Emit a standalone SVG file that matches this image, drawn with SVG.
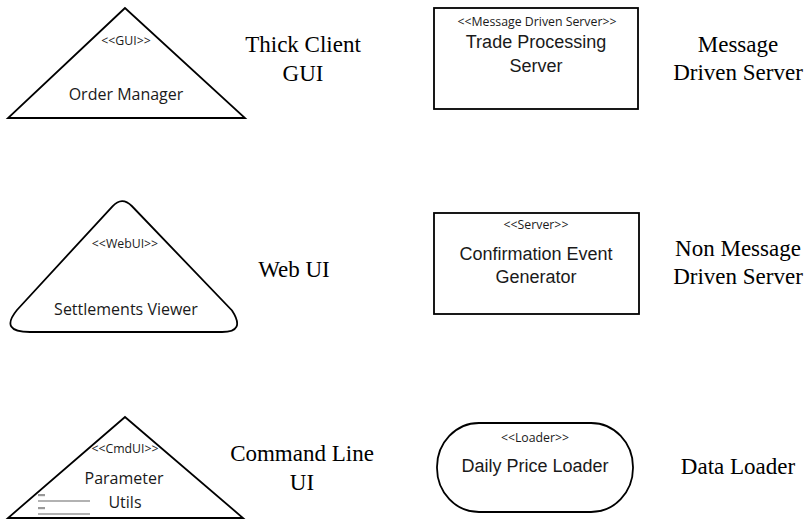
<svg xmlns="http://www.w3.org/2000/svg" width="807" height="519" viewBox="0 0 807 519">
<style>
.shape{fill:#fff;stroke:#000;stroke-width:1.8;stroke-linejoin:miter}
.st{font-family:"Open Sans",sans-serif;font-size:12.3px;fill:#1a1a1a;text-anchor:middle}
.nm{font-family:"Open Sans",sans-serif;font-size:16px;fill:#1a1a1a;text-anchor:middle}
.bx{font-family:"Liberation Sans",Arial,sans-serif;font-size:18px;fill:#1a1a1a;text-anchor:middle}
.lb{font-family:"Liberation Serif","Times New Roman",serif;font-size:23px;fill:#000;text-anchor:middle}
.menu{stroke:#999;stroke-width:1.6}
.dash{fill:#999}
</style>
<rect width="807" height="519" fill="#fff"/>
<g id="connectors"></g>
<g id="node-order-manager">
<polygon class="shape" points="125,8 8,118 245,118"/>
<text class="st" x="126" y="45">&lt;&lt;GUI&gt;&gt;</text>
<text class="nm" x="126" y="100">Order Manager</text>
</g>
<g id="label-thick-client">
<text class="lb" x="303" y="52">Thick Client</text>
<text class="lb" x="303" y="81">GUI</text>
</g>
<g id="node-trade-processing">
<rect class="shape" x="434" y="8" width="204" height="101"/>
<text class="st" x="537" y="26">&lt;&lt;Message Driven Server&gt;&gt;</text>
<text class="bx" x="536" y="48">Trade Processing</text>
<text class="bx" x="536" y="72">Server</text>
</g>
<g id="label-message-driven">
<text class="lb" x="738" y="52">Message</text>
<text class="lb" x="738" y="80">Driven Server</text>
</g>
<g id="node-settlements-viewer">
<path class="shape" d="M112.5,206.3 Q122,196 131.8,206 L232,310.5 Q246,332 222,332 L30,332 Q-1,332 17,310 Z"/>
<text class="st" x="125" y="248">&lt;&lt;WebUI&gt;&gt;</text>
<text class="nm" x="126" y="315">Settlements Viewer</text>
</g>
<g id="label-web-ui">
<text class="lb" x="294" y="277">Web UI</text>
</g>
<g id="node-confirmation">
<rect class="shape" x="434" y="213" width="205" height="101"/>
<text class="st" x="536" y="229">&lt;&lt;Server&gt;&gt;</text>
<text class="bx" x="536" y="260">Confirmation Event</text>
<text class="bx" x="536" y="283">Generator</text>
</g>
<g id="label-non-message">
<text class="lb" x="738" y="256">Non Message</text>
<text class="lb" x="738" y="284">Driven Server</text>
</g>
<g id="node-parameter-utils">
<polygon class="shape" points="125,417 8,518 243,518"/>
<text class="st" x="125" y="453">&lt;&lt;CmdUI&gt;&gt;</text>
<text class="nm" x="124" y="484">Parameter</text>
<text class="nm" x="125" y="508">Utils</text>
<rect class="dash" x="38" y="494" width="7" height="2.2"/>
<line class="menu" x1="38" y1="501" x2="90" y2="501"/>
<rect class="dash" x="38" y="507" width="7" height="2.2"/>
<line class="menu" x1="38" y1="514" x2="90" y2="514"/>
</g>
<g id="label-command-line">
<text class="lb" x="302" y="461">Command Line</text>
<text class="lb" x="302" y="490">UI</text>
</g>
<g id="node-daily-price-loader">
<rect class="shape" x="437" y="423" width="196" height="89" rx="42" ry="44"/>
<text class="st" x="535" y="442">&lt;&lt;Loader&gt;&gt;</text>
<text class="bx" x="535" y="472">Daily Price Loader</text>
</g>
<g id="label-data-loader">
<text class="lb" x="738" y="474">Data Loader</text>
</g>
</svg>
